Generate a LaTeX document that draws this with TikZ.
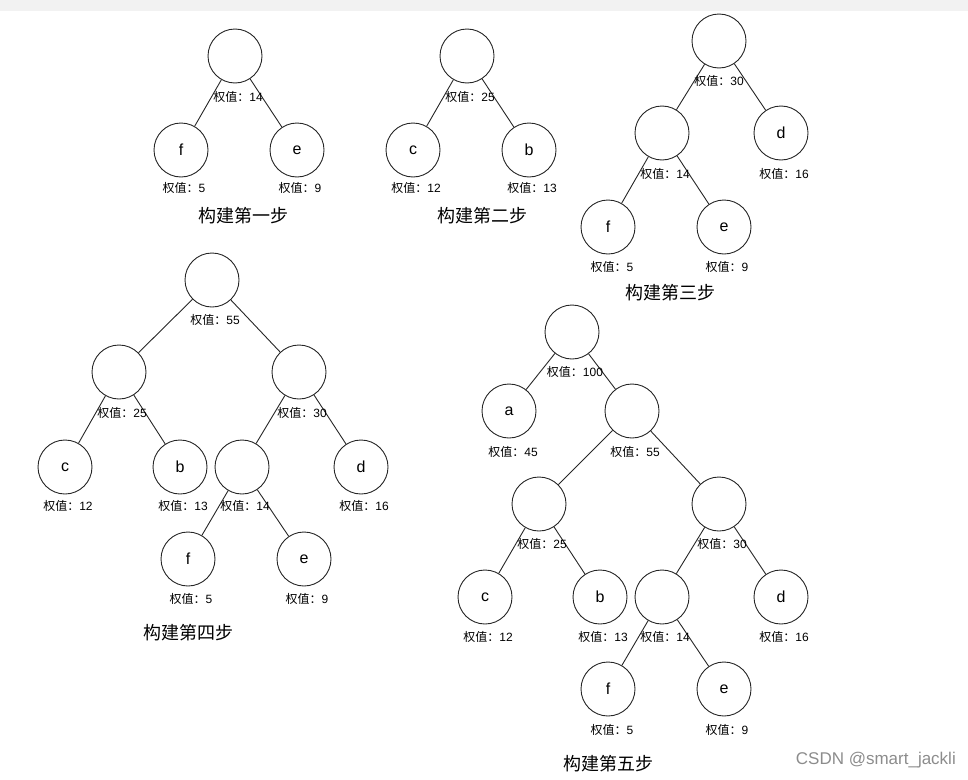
\documentclass[tikz,border=0pt]{standalone}
\usepackage{fontspec}
\setmainfont{Liberation Sans}
\newfontfamily\cjk{Noto Sans CJK SC}
\begin{document}
\begin{tikzpicture}[x=1pt,y=-1pt,
  nd/.style={circle,draw=black!85,line width=0.9pt,minimum size=54pt,inner sep=0pt,font=\fontsize{16}{18}\selectfont},
  lbl/.style={inner sep=0pt,font=\fontsize{12}{14}\selectfont},
  ttl/.style={inner sep=0pt,font=\cjk\fontsize{18}{20}\selectfont},
  edge/.style={draw=black!85,line width=0.9pt}]
\useasboundingbox (0,0) rectangle (968,779);
\fill[black!5] (0,0) rectangle (968,11);
\newcommand{\wt}[1]{{\cjk 权值：}#1}
% ---- step 1
\node[nd] (a1) at (235,56) {};
\node[nd] (a1f) at (181,150) {f};
\node[nd] (a1e) at (297,150) {e};
\draw[edge] (a1) -- (a1f); \draw[edge] (a1) -- (a1e);
\node[lbl] (l1r) at (238,97) {\wt{14}};
\node[lbl] (l1f) at (184,188) {\wt{5}};
\node[lbl] (l1e) at (300,188) {\wt{9}};
\node[ttl] (t1) at (243,216) {构建第一步};
% ---- step 2
\node[nd] (a2) at (467,56) {};
\node[nd] (a2c) at (413,150) {c};
\node[nd] (a2b) at (529,150) {b};
\draw[edge] (a2) -- (a2c); \draw[edge] (a2) -- (a2b);
\node[lbl] (l2r) at (470,97) {\wt{25}};
\node[lbl] (l2c) at (416,188) {\wt{12}};
\node[lbl] (l2b) at (532,188) {\wt{13}};
\node[ttl] (t2) at (482,216) {构建第二步};
% ---- step 3
\node[nd] (a3) at (719,41) {};
\node[nd] (a3m) at (662,133) {};
\node[nd] (a3d) at (781,133) {d};
\node[nd] (a3f) at (608,227) {f};
\node[nd] (a3e) at (724,227) {e};
\draw[edge] (a3) -- (a3m); \draw[edge] (a3) -- (a3d);
\draw[edge] (a3m) -- (a3f); \draw[edge] (a3m) -- (a3e);
\node[lbl] (l3r) at (719,81) {\wt{30}};
\node[lbl] (l3m) at (665,174) {\wt{14}};
\node[lbl] (l3d) at (784,174) {\wt{16}};
\node[lbl] (l3f) at (612,267) {\wt{5}};
\node[lbl] (l3e) at (727,267) {\wt{9}};
\node[ttl] (t3) at (670,293) {构建第三步};
% ---- step 4
\node[nd] (a4) at (212,280) {};
\node[nd] (a4l) at (119,372) {};
\node[nd] (a4r) at (299,372) {};
\node[nd] (a4c) at (65,467) {c};
\node[nd] (a4b) at (180,467) {b};
\node[nd] (a4m) at (242,467) {};
\node[nd] (a4d) at (361,467) {d};
\node[nd] (a4f) at (188,559) {f};
\node[nd] (a4e) at (304,559) {e};
\draw[edge] (a4) -- (a4l); \draw[edge] (a4) -- (a4r);
\draw[edge] (a4l) -- (a4c); \draw[edge] (a4l) -- (a4b);
\draw[edge] (a4r) -- (a4m); \draw[edge] (a4r) -- (a4d);
\draw[edge] (a4m) -- (a4f); \draw[edge] (a4m) -- (a4e);
\node[lbl] (l4r) at (215,320) {\wt{55}};
\node[lbl] (l4l) at (122,413) {\wt{25}};
\node[lbl] (l4rr) at (302,413) {\wt{30}};
\node[lbl] (l4c) at (68,506) {\wt{12}};
\node[lbl] (l4b) at (183,506) {\wt{13}};
\node[lbl] (l4m) at (245,506) {\wt{14}};
\node[lbl] (l4d) at (364,506) {\wt{16}};
\node[lbl] (l4f) at (191,599) {\wt{5}};
\node[lbl] (l4e) at (307,599) {\wt{9}};
\node[ttl] (t4) at (188,633) {构建第四步};
% ---- step 5
\node[nd] (a5) at (572,332) {};
\node[nd] (a5a) at (509,411) {a};
\node[nd] (a5n) at (632,411) {};
\node[nd] (a5l) at (539,504) {};
\node[nd] (a5r) at (719,504) {};
\node[nd] (a5c) at (485,597) {c};
\node[nd] (a5b) at (600,597) {b};
\node[nd] (a5m) at (662,597) {};
\node[nd] (a5d) at (781,597) {d};
\node[nd] (a5f) at (608,689) {f};
\node[nd] (a5e) at (724,689) {e};
\draw[edge] (a5) -- (a5a); \draw[edge] (a5) -- (a5n);
\draw[edge] (a5n) -- (a5l); \draw[edge] (a5n) -- (a5r);
\draw[edge] (a5l) -- (a5c); \draw[edge] (a5l) -- (a5b);
\draw[edge] (a5r) -- (a5m); \draw[edge] (a5r) -- (a5d);
\draw[edge] (a5m) -- (a5f); \draw[edge] (a5m) -- (a5e);
\node[lbl] (l5r) at (575,372) {\wt{100}};
\node[lbl] (l5a) at (513,452) {\wt{45}};
\node[lbl] (l5n) at (635,452) {\wt{55}};
\node[lbl] (l5l) at (542,544) {\wt{25}};
\node[lbl] (l5rr) at (722,544) {\wt{30}};
\node[lbl] (l5c) at (488,637) {\wt{12}};
\node[lbl] (l5b) at (603,637) {\wt{13}};
\node[lbl] (l5m) at (665,637) {\wt{14}};
\node[lbl] (l5d) at (784,637) {\wt{16}};
\node[lbl] (l5f) at (612,730) {\wt{5}};
\node[lbl] (l5e) at (727,730) {\wt{9}};
\node[ttl] (t5) at (608,764) {构建第五步};
% watermark
\node[inner sep=0pt,anchor=east,text=black!45,font=\fontsize{17}{19}\selectfont] (wm) at (956,760) {CSDN @smart\_jackli};
\end{tikzpicture}
\end{document}
